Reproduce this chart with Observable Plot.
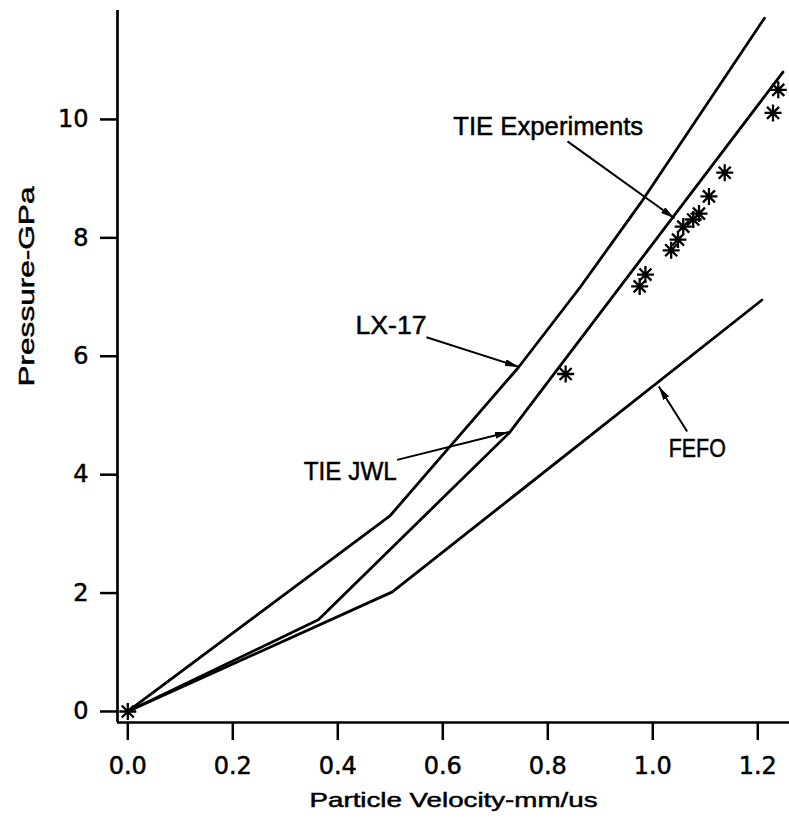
<!DOCTYPE html>
<html>
<head>
<meta charset="utf-8">
<script src="https://cdn.jsdelivr.net/npm/d3@7"></script>
<script src="https://cdn.jsdelivr.net/npm/@observablehq/plot@0.6"></script>
<style>
  html, body { margin: 0; padding: 0; background: #fff; }
  #chart svg { display: block; }
  #chart svg text { stroke: #000; stroke-width: 0.5px; }
</style>
</head>
<body>
<div id="chart"></div>
<script>
// ---- data ----
const xTicks = [0, 0.2, 0.4, 0.6, 0.8, 1.0, 1.2];
const yTicks = [0, 2, 4, 6, 8, 10];

const lx17X = [0, 0.5, 0.744, 0.862, 0.977, 1.2126];
const lx17Y = [0, 3.31, 5.81, 7.17, 8.59, 11.71];

const tieJwlX = [0, 0.363, 0.727, 1.248];
const tieJwlY = [0, 1.55, 4.71, 10.8];

const fefoX = [0, 0.504, 1.208];
const fefoY = [0, 2.02, 6.95];

const expX = [0, 0.834, 0.975, 0.986, 1.035, 1.048, 1.058, 1.077, 1.088, 1.107, 1.137, 1.229, 1.239];
const expY = [0, 5.70, 7.18, 7.38, 7.79, 7.97, 8.19, 8.31, 8.41, 8.70, 9.10, 10.11, 10.50];

const labels = ["TIE Experiments", "LX-17", "TIE JWL", "FEFO"];
const labelX = [0.6198, 0.4337, 0.3352, 1.0305];
const labelY = [9.730, 6.368, 3.914, 4.296];
const arrowX1 = [0.8375, 0.569, 0.513, 1.0655];
const arrowY1 = [9.63, 6.32, 4.25, 4.73];
const arrowX2 = [1.0413, 0.745, 0.726, 1.0114];
const arrowY2 = [8.33, 5.82, 4.72, 5.49];

const xLabel = "Particle Velocity-mm/us";
const yLabel = "Pressure-GPa";

// ---- build tables ----
const toPts = (xs, ys) => xs.map((x, i) => ({x, y: ys[i]}));
const lx17 = toPts(lx17X, lx17Y);
const tieJwl = toPts(tieJwlX, tieJwlY);
const fefo = toPts(fefoX, fefoY);
const exps = toPts(expX, expY);
const notes = labels.map((t, i) => ({t, x: labelX[i], y: labelY[i]}));
const arrows = labels.map((t, i) => ({x1: arrowX1[i], y1: arrowY1[i], x2: arrowX2[i], y2: arrowY2[i]}));

// ---- styles ----
const textLengths = {
  "TIE Experiments": 190, "LX-17": 71, "TIE JWL": 93, "FEFO": 57,
  "Particle Velocity-mm/us": 288, "Pressure-GPa": 200
};

const asterisk = {
  draw(ctx, size) {
    const r = Math.sqrt(size / Math.PI);
    for (const a of [0, Math.PI / 4, Math.PI / 2, 3 * Math.PI / 4]) {
      ctx.moveTo(r * Math.cos(a), r * Math.sin(a));
      ctx.lineTo(-r * Math.cos(a), -r * Math.sin(a));
    }
  }
};

const xDomain = [-0.0196, 1.2604];
const yDomain = [-0.186, 11.84];
const lw = 2.8;

const svg = Plot.plot({
  width: 789,
  height: 819,
  marginLeft: 117,
  marginRight: 0,
  marginTop: 10,
  marginBottom: 97,
  style: {fontFamily: "DejaVu Sans", background: "#fff", color: "#000"},
  x: {domain: xDomain, label: null},
  y: {domain: yDomain, label: null},
  marks: [
    Plot.axisX({ticks: xTicks, tickFormat: d3.format(".1f"), tickSize: 18, tickPadding: 16,
      fontSize: 24, strokeWidth: 2.5, label: null, fontFamily: "DejaVu Sans"}),
    Plot.axisY({ticks: yTicks, tickFormat: d3.format("d"), tickSize: 17, tickPadding: 12,
      fontSize: 24, strokeWidth: 2.5, label: null, fontFamily: "DejaVu Sans"}),
    Plot.ruleX([xDomain[0]], {stroke: "#000", strokeWidth: 2.7}),
    Plot.ruleY([yDomain[0]], {stroke: "#000", strokeWidth: 2.7}),
    Plot.line(lx17, {x: "x", y: "y", stroke: "#000", strokeWidth: lw}),
    Plot.line(tieJwl, {x: "x", y: "y", stroke: "#000", strokeWidth: lw}),
    Plot.line(fefo, {x: "x", y: "y", stroke: "#000", strokeWidth: lw}),
    Plot.dot(exps, {x: "x", y: "y", symbol: asterisk, r: 8.5, stroke: "#000", strokeWidth: 2.3, fill: "none"}),
    Plot.link(arrows, {x1: "x1", y1: "y1", x2: "x2", y2: "y2", stroke: "#000", strokeWidth: 2}),
    Plot.text(notes, {x: "x", y: "y", text: "t", textAnchor: "start", lineAnchor: "bottom",
      fontSize: 26, fontFamily: "Liberation Sans", fill: "#000"}),
    Plot.text([xLabel], {frameAnchor: "bottom", dy: 84, lineAnchor: "bottom",
      fontSize: 21, fontFamily: "Liberation Sans", fill: "#000"}),
    Plot.text([yLabel], {frameAnchor: "left", rotate: -90, dx: -84, dy: 20, lineAnchor: "bottom",
      fontSize: 22, fontFamily: "Liberation Sans", fill: "#000"})
  ]
});

// arrowheads
const s = d3.select(svg);
const defs = s.insert("defs", ":first-child");
defs.append("marker")
  .attr("id", "ahead")
  .attr("viewBox", "0 0 14 7")
  .attr("refX", 14).attr("refY", 3.5)
  .attr("markerWidth", 14).attr("markerHeight", 7)
  .attr("markerUnits", "userSpaceOnUse")
  .attr("orient", "auto")
  .append("path").attr("d", "M0,0L14,3.5L0,7Z").attr("fill", "#000");
s.selectAll('g[aria-label="link"] path').attr("marker-end", "url(#ahead)");

// text widths
s.selectAll("text").each(function () {
  const t = this.textContent;
  if (textLengths[t] != null) {
    this.setAttribute("textLength", textLengths[t]);
    this.setAttribute("lengthAdjust", "spacingAndGlyphs");
  }
});

document.getElementById("chart").appendChild(svg);
</script>
</body>
</html>
